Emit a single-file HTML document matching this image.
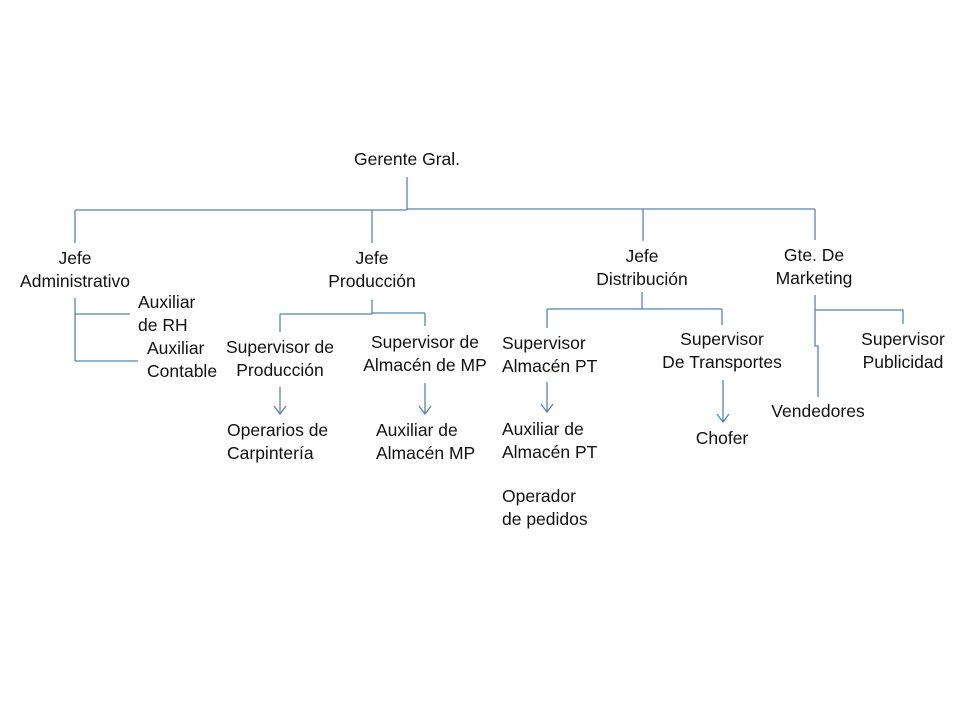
<!DOCTYPE html>
<html><head><meta charset="utf-8"><style>
body{margin:0;width:960px;height:720px;background:#fff;position:relative;overflow:hidden;font-family:"Liberation Sans",sans-serif;font-size:17.5px;line-height:23px;color:#111}
.t{position:absolute;white-space:nowrap}
.c{transform:translateX(-50%);text-align:center}
svg{position:absolute;left:0;top:0}
</style></head><body>
<svg width="960" height="720" stroke="#5a84b0" stroke-width="1.3" fill="none">
<path d="M407 177V210M75 210H407M407 209H815M75 210V243M372 210V243M643 209V241M815 209V240"/>
<path d="M75 298V361M75 314H130M75 361H138"/>
<path d="M372 300V314M280 314H372M372 313H425M280 314V332M425 313V326"/>
<path d="M280 387V414M274 406L280 414L286 406M425 383V414M419 406L425 414L431 406"/>
<path d="M642 292V309M547 309H722M547 309V328M722 309V325"/>
<path d="M547 382V412M541 404L547 412L553 404M723 380V422M717 414L723 422L729 414"/>
<path d="M815 295V346H818V397M815 310H903V324"/>
</svg>
<div class="t c" style="left:407px;top:148px">Gerente Gral.</div>
<div class="t c" style="left:75px;top:247px">Jefe<br>Administrativo</div>
<div class="t c" style="left:372px;top:247px">Jefe<br>Producción</div>
<div class="t c" style="left:642px;top:245px">Jefe<br>Distribución</div>
<div class="t c" style="left:814px;top:244px">Gte. De<br>Marketing</div>
<div class="t" style="left:138px;top:291px">Auxiliar<br>de RH</div>
<div class="t" style="left:147px;top:337px">Auxiliar<br>Contable</div>
<div class="t c" style="left:280px;top:336px">Supervisor de<br>Producción</div>
<div class="t c" style="left:425px;top:331px">Supervisor de<br>Almacén de MP</div>
<div class="t" style="left:502px;top:332px">Supervisor<br>Almacén PT</div>
<div class="t c" style="left:722px;top:328px">Supervisor<br>De Transportes</div>
<div class="t c" style="left:903px;top:328px">Supervisor<br>Publicidad</div>
<div class="t c" style="left:818px;top:400px">Vendedores</div>
<div class="t c" style="left:722px;top:427px">Chofer</div>
<div class="t" style="left:227px;top:419px">Operarios de<br>Carpintería</div>
<div class="t" style="left:376px;top:419px">Auxiliar de<br>Almacén MP</div>
<div class="t" style="left:502px;top:418px">Auxiliar de<br>Almacén PT</div>
<div class="t" style="left:502px;top:485px">Operador<br>de pedidos</div>
</body></html>
